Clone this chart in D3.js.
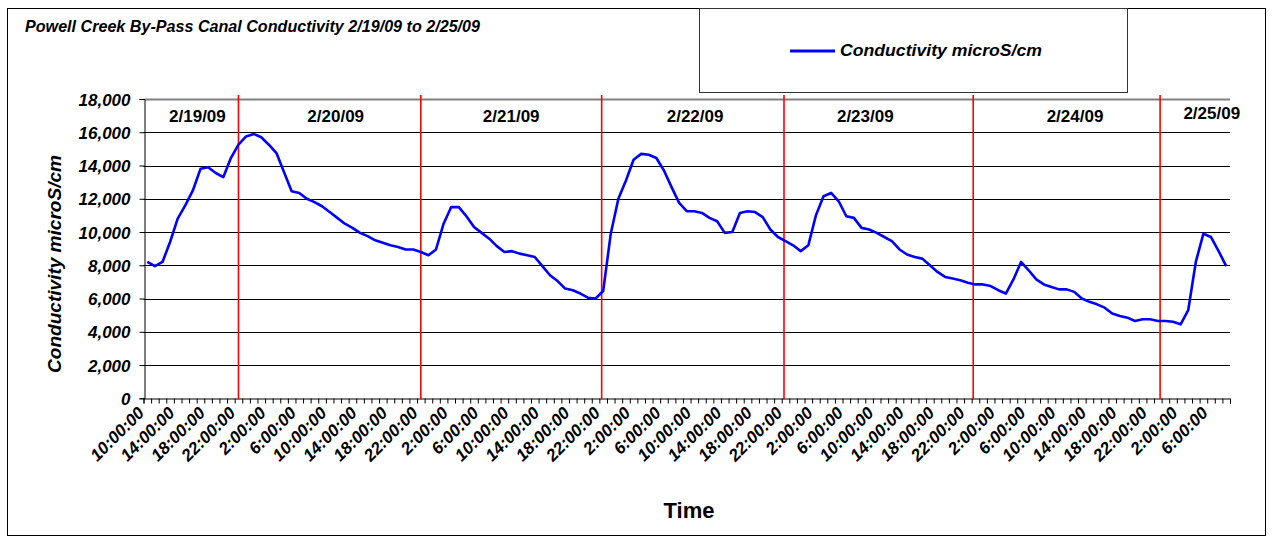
<!DOCTYPE html>
<html lang="en">
<head>
    <meta charset="UTF-8">
    <title>Powell Creek By-Pass Canal Conductivity</title>
    <script src="https://d3js.org/d3.v7.min.js"></script>
    <style>
        body { margin: 0; background: #fff; }
        svg text { font-family: "Liberation Sans", Arial, sans-serif; fill: #000; }
        .title, .legend-label, .ylab, .ytitle, .xlab { font-weight: bold; font-style: italic; }
        .day, .xtitle { font-weight: bold; }
    </style>
</head>
<body>
    <svg id="chart"></svg>

    <script>
        // hourly readings, starting 2/19/09 10:00
        const conductivity = [
            8200, 7950, 8200, 9400, 10800, 11600, 12500, 13800, 13900, 13550, 13300, 14450,
            15250, 15750, 15900, 15700, 15250, 14750, 13600, 12450, 12350, 12000, 11800, 11550,
            11200, 10850, 10500, 10250, 9950, 9750, 9500, 9350, 9200, 9100, 8950, 8950,
            8800, 8600, 8950, 10500, 11500, 11500, 10950, 10300, 9950, 9600, 9150, 8800,
            8850, 8700, 8600, 8500, 7950, 7400, 7050, 6600, 6500, 6300, 6050, 6000,
            6450, 9900, 12000, 13100, 14350, 14700, 14650, 14450, 13700, 12700, 11750, 11250,
            11250, 11150, 10850, 10650, 9950, 10000, 11150, 11250, 11200, 10900, 10150, 9700,
            9450, 9200, 8850, 9200, 11000, 12150, 12350, 11850, 10950, 10850, 10250, 10150,
            9950, 9700, 9450, 8950, 8650, 8500, 8400, 8000, 7600, 7300, 7200, 7100,
            6950, 6850, 6850, 6750, 6500, 6300, 7150, 8200, 7700, 7150, 6850, 6700,
            6550, 6550, 6400, 6000, 5800, 5650, 5450, 5100, 4950, 4850, 4650, 4750,
            4750, 4650, 4650, 4600, 4450, 5300, 8200, 9900, 9700, 8850, 7950
        ];

        // every 4th category carries a label
        const timeLabels = [
            "10:00:00", "14:00:00", "18:00:00", "22:00:00", "2:00:00", "6:00:00",
            "10:00:00", "14:00:00", "18:00:00", "22:00:00", "2:00:00", "6:00:00",
            "10:00:00", "14:00:00", "18:00:00", "22:00:00", "2:00:00", "6:00:00",
            "10:00:00", "14:00:00", "18:00:00", "22:00:00", "2:00:00", "6:00:00",
            "10:00:00", "14:00:00", "18:00:00", "22:00:00", "2:00:00", "6:00:00",
            "10:00:00", "14:00:00", "18:00:00", "22:00:00", "2:00:00", "6:00:00"
        ];

        const days = ["2/19/09", "2/20/09", "2/21/09", "2/22/09", "2/23/09", "2/24/09", "2/25/09"];
        const yTicks = [0, 2000, 4000, 6000, 8000, 10000, 12000, 14000, 16000, 18000];

        // layout: where the day texts and red day dividers sit (in category units)
        const dayTextAt = [6.6, 24.8, 47.9, 72.1, 94.5, 122.1, 140.1];
        const dayTextDy = [23, 23, 23, 23, 23, 23, 19.5];
        const dividerAt = [12, 36, 59.8, 83.8, 108.7, 133.3];
        const labelEvery = 4;

        const width = 1272, height = 543;
        const plot = { left: 143.5, right: 1230, top: 99, bottom: 398.3 };

        const svg = d3.select("#chart")
            .attr("width", width)
            .attr("height", height);

        // outer chart border
        svg.append("rect")
            .attr("x", 7.5).attr("y", 8.5)
            .attr("width", 1258).attr("height", 527)
            .attr("fill", "#fff")
            .attr("stroke", "#000");

        const x = d3.scaleLinear()
            .domain([-0.5, conductivity.length - 0.5])
            .range([plot.left, plot.right]);

        const y = d3.scaleLinear()
            .domain([0, 18000])
            .range([plot.bottom, plot.top]);

        // gridlines
        svg.append("g")
            .selectAll("line")
            .data(yTicks.filter(d => d > 0))
            .enter().append("line")
            .attr("x1", plot.left).attr("x2", plot.right)
            .attr("y1", d => Math.round(y(d)) + 0.5)
            .attr("y2", d => Math.round(y(d)) + 0.5)
            .attr("stroke", d => d === 18000 ? "#808080" : "#000")
            .attr("stroke-width", d => d === 18000 ? 2 : 1);

        // y axis
        const yAxis = svg.append("g")
            .attr("transform", "translate(" + (Math.round(plot.left) + 0.5) + ",0)")
            .call(d3.axisLeft(y).tickValues(yTicks).tickSize(5).tickPadding(9).tickFormat(d3.format(",")));
        yAxis.select(".domain").attr("stroke", "#000");
        yAxis.selectAll(".tick line").attr("stroke", "#000");
        yAxis.selectAll("text")
            .attr("class", "ylab")
            .style("font-size", "17px")
            .attr("dy", "0.36em");

        // x axis: a tick at every category boundary
        const boundaries = d3.range(conductivity.length + 1).map(i => i - 0.5);
        const xAxis = svg.append("g")
            .attr("transform", "translate(0," + (Math.round(plot.bottom) + 0.5) + ")")
            .call(d3.axisBottom(x).tickValues(boundaries).tickSize(5).tickFormat(""));
        xAxis.select(".domain").attr("stroke", "#000");
        xAxis.selectAll(".tick line").attr("stroke", "#000");

        // rotated time labels
        svg.append("g")
            .selectAll("text")
            .data(timeLabels)
            .enter().append("text")
            .attr("class", "xlab")
            .attr("text-anchor", "end")
            .style("font-size", "17px")
            .attr("transform", (d, k) => "translate(" + (x(k * labelEvery) - 2) + "," + 414 + ") rotate(-45)")
            .text(d => d);

        // red day dividers
        svg.append("g")
            .selectAll("line")
            .data(dividerAt)
            .enter().append("line")
            .attr("x1", d => x(d)).attr("x2", d => x(d))
            .attr("y1", plot.top - 4).attr("y2", plot.bottom + 1)
            .attr("stroke", "#ff0000")
            .attr("stroke-width", 1.6);

        // day names
        svg.append("g")
            .selectAll("text")
            .data(days)
            .enter().append("text")
            .attr("class", "day")
            .attr("text-anchor", "middle")
            .style("font-size", "17px")
            .attr("x", (d, i) => x(dayTextAt[i]))
            .attr("y", (d, i) => plot.top + dayTextDy[i])
            .text(d => d);

        // conductivity line
        const line = d3.line()
            .x((d, i) => x(i))
            .y(d => y(d));

        svg.append("path")
            .datum(conductivity)
            .attr("d", line)
            .attr("fill", "none")
            .attr("stroke", "#0000ff")
            .attr("stroke-width", 2.6)
            .attr("stroke-linejoin", "round");

        // titles
        svg.append("text")
            .attr("class", "title")
            .attr("x", 25).attr("y", 32)
            .style("font-size", "17px")
            .attr("textLength", 455)
            .attr("lengthAdjust", "spacingAndGlyphs")
            .text("Powell Creek By-Pass Canal Conductivity 2/19/09 to 2/25/09");

        svg.append("text")
            .attr("class", "ytitle")
            .attr("text-anchor", "middle")
            .style("font-size", "18px")
            .attr("transform", "translate(61,264) rotate(-90)")
            .attr("textLength", 218)
            .attr("lengthAdjust", "spacingAndGlyphs")
            .text("Conductivity microS/cm");

        svg.append("text")
            .attr("class", "xtitle")
            .attr("text-anchor", "middle")
            .style("font-size", "22px")
            .attr("x", 689).attr("y", 518)
            .text("Time");

        // legend
        const legend = svg.append("g");
        legend.append("rect")
            .attr("x", 699.5).attr("y", 8.5)
            .attr("width", 428).attr("height", 84)
            .attr("fill", "#fff")
            .attr("stroke", "#333");
        legend.append("line")
            .attr("x1", 790).attr("x2", 835)
            .attr("y1", 51).attr("y2", 51)
            .attr("stroke", "#0000ff")
            .attr("stroke-width", 3);
        legend.append("text")
            .attr("class", "legend-label")
            .attr("x", 840).attr("y", 56)
            .style("font-size", "17px")
            .attr("textLength", 202)
            .attr("lengthAdjust", "spacingAndGlyphs")
            .text("Conductivity microS/cm");
    </script>
</body>
</html>
